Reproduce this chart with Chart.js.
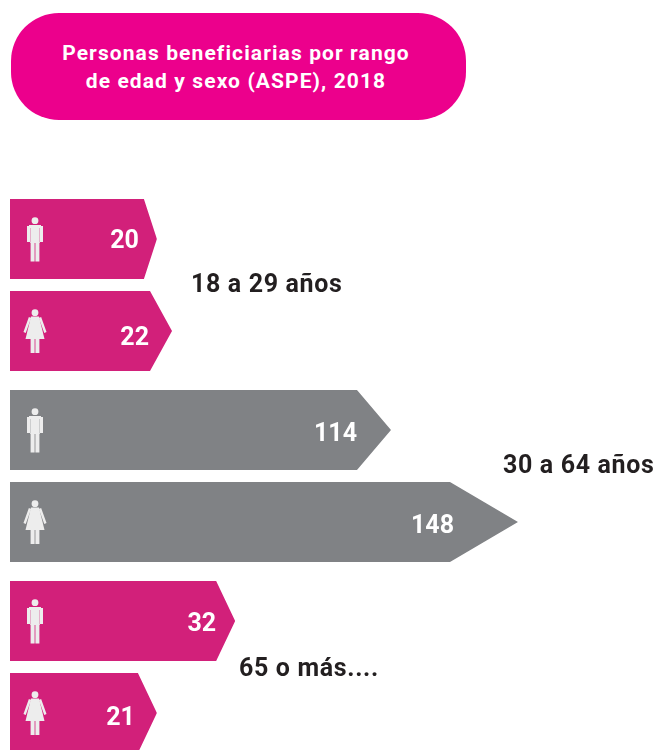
<!DOCTYPE html>
<html lang="es">
<head>
<meta charset="utf-8">
<title>Personas beneficiarias por rango de edad y sexo (ASPE), 2018</title>
<script src="https://cdn.jsdelivr.net/npm/chart.js@4/dist/chart.umd.min.js"></script>
<style>
    html, body { margin: 0; padding: 0; width: 657px; height: 750px; overflow: hidden; background: #fff; }
    #pill {
        position: absolute; left: 11px; top: 13px; width: 455px; height: 107px;
        border-radius: 48px; background: #ec008c; color: #fff;
        font: bold 21px/28px Roboto, sans-serif; letter-spacing: 1.1px; text-align: center;
        box-sizing: border-box; padding-top: 26px; padding-right: 5px;
    }
    #chart { position: absolute; left: 0; top: 0; }
</style>
</head>
<body>
<div id="pill">Personas beneficiarias por rango<br>de edad y sexo (ASPE), 2018</div>
<canvas id="chart" width="657" height="780"></canvas>
<script>
const categories = ['18 a 29 años', '30 a 64 años', '65 o más....'];
const valuesMen = [20, 114, 32];
const valuesWomen = [22, 148, 21];
// the arrows in the picture are not proportional to their numbers,
// so the drawn length is read separately, in units where 148 is full length
const lengthsMen = [42.8, 111, 65.6];
const lengthsWomen = [47.2, 148, 42.8];

// depth of each arrow point in px
const tipMen = [13, 34, 19];
const tipWomen = [22, 68, 19];
// nudges for the number inside each arrow, from its shoulder
const numberOffsetMen = [[-5, 3], [0, 5], [0, 4]];
const numberOffsetWomen = [[-1, 8], [4, 5], [-3, 6]];
const groupLabelX = [191, 503, 239];
const groupLabelDy = [1, -9, 3];

const PINK = '#d2207a';
const GRAY = '#808285';
const ICON = '#ededed';

function arrowPath(ctx, bar, tip) {
    const top = bar.y - bar.height / 2;
    const bottom = bar.y + bar.height / 2;
    ctx.moveTo(bar.base, top);
    ctx.lineTo(bar.x - tip, top);
    ctx.lineTo(bar.x, bar.y);
    ctx.lineTo(bar.x - tip, bottom);
    ctx.lineTo(bar.base, bottom);
    ctx.closePath();
}

function drawMan(ctx, x, y) {
    ctx.beginPath();
    ctx.arc(x, y - 18.3, 3.4, 0, Math.PI * 2);
    ctx.fill();
    ctx.fillRect(x - 4.7, y - 14, 9.4, 18);
    ctx.fillRect(x - 8, y - 13, 3, 16);
    ctx.fillRect(x + 5, y - 13, 3, 16);
    ctx.fillRect(x - 6, y - 14, 12, 3);
    ctx.fillRect(x - 4.4, y + 3, 4, 19.5);
    ctx.fillRect(x + 0.4, y + 3, 4, 19.5);
}

function drawWoman(ctx, x, y) {
    ctx.beginPath();
    ctx.arc(x, y - 18.3, 3.4, 0, Math.PI * 2);
    ctx.fill();
    // dress
    ctx.beginPath();
    ctx.moveTo(x - 4, y - 14.5);
    ctx.lineTo(x + 4, y - 14.5);
    ctx.lineTo(x + 9.5, y + 8);
    ctx.lineTo(x - 9.5, y + 8);
    ctx.closePath();
    ctx.fill();
    // arms
    ctx.lineWidth = 2.4;
    ctx.strokeStyle = ICON;
    ctx.beginPath();
    ctx.moveTo(x - 5, y - 13.5);
    ctx.lineTo(x - 10.4, y + 1.5);
    ctx.moveTo(x + 5, y - 13.5);
    ctx.lineTo(x + 10.4, y + 1.5);
    ctx.stroke();
    ctx.fillRect(x - 4.4, y + 8, 4, 14);
    ctx.fillRect(x + 0.4, y + 8, 4, 14);
}

// Chart.js paints the bars, this cuts them to the arrow outline
const arrowClip = {
    id: 'arrowClip',
    beforeDatasetDraw(chart, args) {
        const ctx = chart.ctx;
        const tips = args.index === 0 ? tipMen : tipWomen;
        ctx.save();
        ctx.beginPath();
        args.meta.data.forEach((bar, i) => arrowPath(ctx, bar, tips[i]));
        ctx.clip();
    },
    afterDatasetDraw(chart) {
        chart.ctx.restore();
    }
};

const arrowText = {
    id: 'arrowText',
    afterDraw(chart) {
        const ctx = chart.ctx;
        ctx.save();
        ctx.textBaseline = 'middle';
        [[valuesMen, tipMen, numberOffsetMen, drawMan], [valuesWomen, tipWomen, numberOffsetWomen, drawWoman]].forEach((set, d) => {
            chart.getDatasetMeta(d).data.forEach((bar, i) => {
                ctx.fillStyle = ICON;
                set[3](ctx, bar.base + 25, bar.y);
                ctx.fillStyle = '#fff';
                ctx.font = 'bold 25px Roboto, sans-serif';
                ctx.textAlign = 'right';
                ctx.fillText(set[0][i], bar.x - set[1][i] + set[2][i][0], bar.y + set[2][i][1]);
            });
        });
        ctx.fillStyle = '#231f20';
        ctx.font = 'bold 25px Roboto, sans-serif';
        ctx.letterSpacing = '0.65px';
        ctx.textAlign = 'left';
        categories.forEach((label, i) => {
            ctx.fillText(label, groupLabelX[i], chart.scales.y.getPixelForTick(i) + groupLabelDy[i]);
        });
        ctx.restore();
    }
};

new Chart(document.getElementById('chart').getContext('2d'), {
    type: 'bar',
    data: {
        labels: categories,
        datasets: [
            { label: 'Hombres', data: lengthsMen, backgroundColor: [PINK, GRAY, PINK] },
            { label: 'Mujeres', data: lengthsWomen, backgroundColor: [PINK, GRAY, PINK] }
        ]
    },
    options: {
        indexAxis: 'y',
        responsive: false,
        animation: false,
        categoryPercentage: 184 / 191,
        barPercentage: 80 / 92,
        layout: { padding: { left: 10, top: 189.5, bottom: 17.5, right: 0 } },
        scales: {
            x: { display: false, min: 0, max: 188.5 },
            y: { display: false }
        },
        plugins: {
            legend: { display: false },
            tooltip: { enabled: false }
        }
    },
    plugins: [arrowClip, arrowText]
});
</script>
</body>
</html>
